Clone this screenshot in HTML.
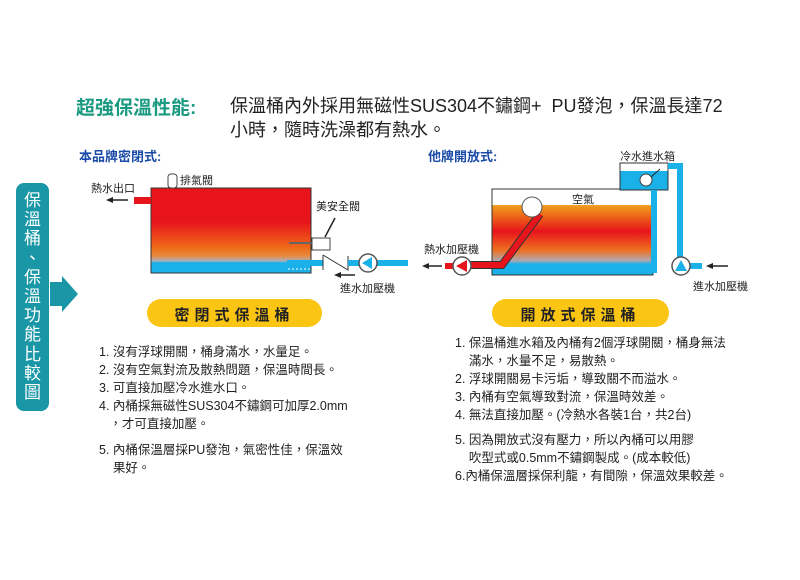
<!DOCTYPE html>
<html><head><meta charset="utf-8"><style>
body{margin:0;width:800px;height:580px;background:#fff;position:relative;overflow:hidden;font-family:"Liberation Sans","Noto Sans CJK TC",sans-serif;}
.t{position:absolute;white-space:nowrap;}
.l{font-size:12.5px;color:#222;line-height:18px;}
</style></head><body>
<svg width="800" height="580" style="position:absolute;left:0;top:0">
<defs>
<linearGradient id="g1" x1="0" y1="0" x2="0" y2="1">
<stop offset="0" stop-color="#e8141c"/><stop offset="0.4" stop-color="#e8141c"/><stop offset="0.7" stop-color="#ee6a18"/><stop offset="0.8" stop-color="#e88a40"/><stop offset="0.86" stop-color="#a8b0c0"/><stop offset="0.88" stop-color="#1ab0e8"/><stop offset="1" stop-color="#1ab0e8"/></linearGradient>
<linearGradient id="g2" x1="0" y1="0" x2="0" y2="1">
<stop offset="0" stop-color="#f0a020"/><stop offset="0.15" stop-color="#ee6a18"/><stop offset="0.38" stop-color="#e8141c"/><stop offset="0.65" stop-color="#ee7020"/><stop offset="0.8" stop-color="#b0a8b0"/><stop offset="0.85" stop-color="#1ab0e8"/><stop offset="1" stop-color="#1ab0e8"/></linearGradient>
</defs>
<rect x="16" y="183" width="33" height="228" rx="8" fill="#1a97a6"/>
<polygon points="50,282 62,282 62,276 78,294 62,312 62,306 50,306" fill="#1a97a6"/>
<rect x="151" y="188" width="160" height="85" fill="url(#g1)" stroke="#333" stroke-width="1"/>
<rect x="134" y="197" width="17" height="7" fill="#e8141c"/>
<line x1="128" y1="200" x2="110" y2="200" stroke="#222" stroke-width="1.5"/><polygon points="106,200 113,197 113,203" fill="#222"/>
<rect x="168" y="174" width="9" height="14" rx="3" fill="#fff" stroke="#444"/>
<line x1="289" y1="243" x2="312" y2="243" stroke="#666" stroke-width="2"/>
<rect x="312" y="238" width="18" height="12" fill="#fff" stroke="#444"/>
<line x1="325" y1="237" x2="335" y2="218" stroke="#222" stroke-width="1.5"/>
<rect x="287" y="260" width="36" height="6" fill="#1ab0e8"/>
<line x1="288" y1="269" x2="312" y2="269" stroke="#fff" stroke-dasharray="2,2"/>
<path d="M323,255 L348,270 L348,256 M323,255 L323,270" stroke="#333" fill="none"/>
<rect x="348" y="260" width="60" height="6" fill="#1ab0e8"/>
<circle cx="368" cy="263" r="9" fill="#fff" stroke="#555" stroke-width="1.5"/>
<polygon points="362,263 372,257 372,269" fill="#1ab0e8"/>
<line x1="355" y1="275" x2="338" y2="275" stroke="#222" stroke-width="1.5"/><polygon points="334,275 341,272 341,278" fill="#222"/>
<rect x="492" y="189" width="161" height="86" fill="#fff" stroke="#333"/>
<rect x="492.5" y="205" width="160" height="69.5" fill="url(#g2)"/>
<rect x="620" y="163" width="48" height="27" fill="#fff" stroke="#333"/>
<rect x="620.5" y="171" width="47" height="18.5" fill="#1ab0e8"/>
<circle cx="646" cy="180" r="6" fill="#fff" stroke="#444"/>
<line x1="651" y1="177" x2="660" y2="169" stroke="#222"/>
<path d="M654,190 L654,270 L629,270" stroke="#1ab0e8" stroke-width="6" fill="none"/>
<path d="M668,166 L680,166 L680,258" stroke="#1ab0e8" stroke-width="6" fill="none"/>
<rect x="688" y="263" width="14" height="6" fill="#1ab0e8"/>
<circle cx="681" cy="266" r="9" fill="#fff" stroke="#555" stroke-width="1.5"/>
<polygon points="681,260 675,271 687,271" fill="#1ab0e8"/>
<line x1="728" y1="266" x2="710" y2="266" stroke="#222" stroke-width="1.5"/><polygon points="706,266 713,263 713,269" fill="#222"/>
<path d="M540,214 L502,265 L470,265" stroke="#333" stroke-width="8" fill="none"/>
<path d="M540,214 L502,265 L470,265" stroke="#e8141c" stroke-width="6" fill="none"/>
<rect x="445" y="263" width="10" height="6" fill="#e8141c"/>
<circle cx="532" cy="207" r="10" fill="#fff" stroke="#555"/>
<circle cx="462" cy="266" r="9" fill="#fff" stroke="#555" stroke-width="1.5"/>
<polygon points="456,266 467,260 467,272" fill="#e8141c"/>
<line x1="442" y1="266" x2="426" y2="266" stroke="#222" stroke-width="1.5"/><polygon points="422,266 429,263 429,269" fill="#222"/>
<rect x="147" y="299" width="175" height="28" rx="14" fill="#fbc514"/>
<rect x="492" y="299" width="177" height="28" rx="14" fill="#fbc514"/>
</svg>
<div class="t" style="left:76px;top:93px;font-size:19px;font-weight:bold;color:#1a9a80">超強保溫性能:</div>
<div class="t" style="left:230px;top:94px;font-size:18px;color:#222;line-height:24px">保溫桶內外採用無磁性SUS304不鏽鋼+&nbsp; PU發泡，保溫長達72<br>小時，隨時洗澡都有熱水。</div>
<div class="t" style="left:79px;top:146px;font-size:13px;font-weight:bold;color:#1a4aa8">本品牌密閉式:</div>
<div class="t" style="left:428px;top:146px;font-size:13px;font-weight:bold;color:#1a4aa8">他牌開放式:</div>
<div class="t" style="left:16px;top:191px;width:33px;font-size:17px;color:#fff;line-height:19.2px;text-align:center">保<br>溫<br>桶<br>、<br>保<br>溫<br>功<br>能<br>比<br>較<br>圖</div>
<div class="t" style="left:91px;top:180px;font-size:11px;color:#222">熱水出口</div>
<div class="t" style="left:180px;top:172px;font-size:11px;color:#222">排氣閥</div>
<div class="t" style="left:316px;top:198px;font-size:11px;color:#222">美安全閥</div>
<div class="t" style="left:340px;top:280px;font-size:11px;color:#222">進水加壓機</div>
<div class="t" style="left:620px;top:148px;font-size:11px;color:#222">冷水進水箱</div>
<div class="t" style="left:572px;top:191px;font-size:11px;color:#222">空氣</div>
<div class="t" style="left:424px;top:241px;font-size:11px;color:#222">熱水加壓機</div>
<div class="t" style="left:693px;top:278px;font-size:11px;color:#222">進水加壓機</div>
<div class="t" style="left:147px;top:304px;width:175px;text-align:center;font-size:15px;font-weight:bold;letter-spacing:5px;color:#222">密閉式保溫桶</div>
<div class="t" style="left:492px;top:304px;width:177px;text-align:center;font-size:15px;font-weight:bold;letter-spacing:5px;color:#222">開放式保溫桶</div>
<div class="t l" style="left:99px;top:343px">1. 沒有浮球開關，桶身滿水，水量足。<br>2. 沒有空氣對流及散熱問題，保溫時間長。<br>3. 可直接加壓冷水進水口。<br>4. 內桶採無磁性SUS304不鏽鋼可加厚2.0mm<br>&nbsp;&nbsp;&nbsp;，才可直接加壓。</div>
<div class="t l" style="left:99px;top:441px">5. 內桶保溫層採PU發泡，氣密性佳，保溫效<br>&nbsp;&nbsp;&nbsp;&nbsp;果好。</div>
<div class="t l" style="left:455px;top:334px">1. 保溫桶進水箱及內桶有2個浮球開關，桶身無法<br>&nbsp;&nbsp;&nbsp;&nbsp;滿水，水量不足，易散熱。<br>2. 浮球開關易卡污垢，導致關不而溢水。<br>3. 內桶有空氣導致對流，保溫時效差。<br>4. 無法直接加壓。(冷熱水各裝1台，共2台)</div>
<div class="t l" style="left:455px;top:431px">5. 因為開放式沒有壓力，所以內桶可以用膠<br>&nbsp;&nbsp;&nbsp;&nbsp;吹型式或0.5mm不鏽鋼製成。(成本較低)<br>6.內桶保溫層採保利龍，有間隙，保溫效果較差。</div>
</body></html>
